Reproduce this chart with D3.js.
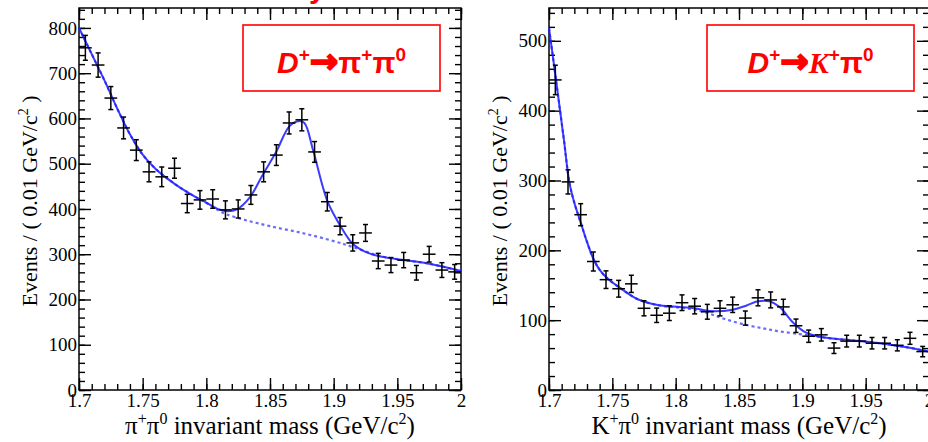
<!DOCTYPE html>
<html>
<head>
<meta charset="utf-8">
<script src="https://cdn.jsdelivr.net/npm/d3@7"></script>
<style>
  body { margin: 0; background: #fff; }
  svg { display: block; }
</style>
</head>
<body>
<div id="chart"></div>
<script>
/* D+ -> pi+ pi0 and D+ -> K+ pi0 invariant mass fits */

// bin centres (0.01 GeV/c^2 bins)
const binCenters = [1.705, 1.715, 1.725, 1.735, 1.745, 1.755, 1.765, 1.775, 1.785, 1.795,
                    1.805, 1.815, 1.825, 1.835, 1.845, 1.855, 1.865, 1.875, 1.885, 1.895,
                    1.905, 1.915, 1.925, 1.935, 1.945, 1.955, 1.965, 1.975, 1.985, 1.995];

// pi+ pi0 panel
const pipiCounts = [756, 718, 645, 579, 530, 482, 471, 490, 412, 420,
                    422, 398, 400, 431, 482, 519, 590, 597, 526, 416,
                    362, 325, 347, 285, 276, 287, 259, 300, 265, 261];
const pipiErrors = [27.5, 26.8, 25.4, 24.1, 23.0, 22.0, 21.7, 22.1, 20.3, 20.5,
                    20.5, 19.9, 20.0, 20.8, 22.0, 22.8, 24.3, 24.4, 22.9, 20.4,
                    19.0, 18.0, 18.6, 16.9, 16.6, 16.9, 16.1, 17.3, 16.3, 16.2];
const pipiFitX = [1.700, 1.710, 1.720, 1.730, 1.740, 1.750, 1.760, 1.770, 1.780, 1.790,
                  1.800, 1.810, 1.817, 1.824, 1.834, 1.844, 1.855, 1.865, 1.872, 1.877,
                  1.884, 1.895, 1.905, 1.915, 1.925, 1.935, 1.950, 1.975, 2.000];
const pipiFitY = [800, 742, 684, 622, 565, 520, 489, 466, 446, 429,
                  414, 399, 395, 399, 425, 474, 527, 582, 594, 590,
                  528, 418, 364, 323, 305, 296, 289, 279, 263];
const pipiBkgX = [1.700, 1.710, 1.720, 1.730, 1.740, 1.750, 1.760, 1.770, 1.780, 1.790,
                  1.800, 1.810, 1.816, 1.830, 1.850, 1.875, 1.900, 1.915, 1.935, 1.950,
                  1.975, 2.000];
const pipiBkgY = [800, 742, 684, 622, 565, 520, 489, 466, 446, 429,
                  413, 396, 388, 376, 362, 347, 329, 316, 297, 289,
                  279, 263];

// K+ pi0 panel
const kpiCounts = [444, 298, 251, 184, 158, 145, 152, 117, 107, 110,
                   125, 120, 112, 117, 122, 103, 132, 129, 119, 92,
                   77, 79, 60, 70, 70, 67, 67, 64, 74, 55];
const kpiErrors = [21.1, 17.3, 15.8, 13.6, 12.6, 12.0, 12.3, 10.8, 10.3, 10.5,
                   11.2, 11.0, 10.6, 10.8, 11.0, 10.1, 11.5, 11.4, 10.9, 9.6,
                   8.8, 8.9, 7.7, 8.4, 8.4, 8.2, 8.2, 8.0, 8.6, 7.4];
const kpiFitX = [1.700, 1.704, 1.708, 1.712, 1.716, 1.720, 1.725, 1.730, 1.735, 1.740,
                 1.746, 1.757, 1.770, 1.788, 1.803, 1.815, 1.827, 1.845, 1.856, 1.865,
                 1.874, 1.882, 1.893, 1.903, 1.912, 1.922, 1.940, 1.961, 1.980, 2.000];
const kpiFitY = [518, 465, 410, 355, 298, 268, 240, 212, 188, 172,
                 160, 145, 130, 121, 119, 117, 113, 115, 121, 127,
                 127, 119, 96, 82, 77, 74, 71, 67, 62, 55];
const kpiBkgX = [1.700, 1.704, 1.708, 1.712, 1.716, 1.720, 1.725, 1.730, 1.735, 1.740,
                 1.746, 1.757, 1.770, 1.788, 1.803, 1.815, 1.827, 1.840, 1.856, 1.870,
                 1.882, 1.898, 1.910, 1.922, 1.940, 1.961, 1.980, 2.000];
const kpiBkgY = [518, 465, 410, 355, 298, 268, 240, 212, 188, 172,
                 160, 145, 130, 121, 118, 115, 109, 101, 93, 88,
                 84, 80, 77, 74, 71, 67, 62, 55];

// axis ticks
const xTicks = [1.7, 1.75, 1.8, 1.85, 1.9, 1.95, 2.0];
const xTickLabels = ["1.7", "1.75", "1.8", "1.85", "1.9", "1.95", "2"];
const pipiYTicks = [0, 100, 200, 300, 400, 500, 600, 700, 800];
const kpiYTicks = [0, 100, 200, 300, 400, 500];

const width = 928, height = 442;

const serif = "'Liberation Serif', 'Times New Roman', serif";
const sans = "'Liberation Sans', Arial, sans-serif";

const svg = d3.select("#chart")
  .append("svg")
  .attr("width", width)
  .attr("height", height)
  .attr("viewBox", [0, 0, width, height]);

// bit of the red title that sticks in from above
svg.append("text")
  .attr("x", 309).attr("y", -2)
  .attr("font-family", sans)
  .attr("font-weight", "bold")
  .attr("font-size", 30)
  .attr("fill", "#ff0000")
  .text("y");

function drawPanel(p) {
  const top = 8, bottom = 390;

  const x = d3.scaleLinear().domain([1.7, 2.0]).range([p.left, p.right]);
  const y = d3.scaleLinear().domain([0, p.yMax]).range([bottom, top]);

  const g = svg.append("g");

  // ticks on all four sides, pointing inwards (ROOT style)
  const xMinor = d3.range(1.70, 2.0001, 0.01);
  const yMinor = d3.range(0, p.yMax, 20);

  const styleAxis = a => a
    .attr("font-family", serif)
    .call(a => a.select(".domain").remove())
    .call(a => a.selectAll("line").attr("stroke", "#000").attr("stroke-width", 1.4))
    .call(a => a.selectAll("text").attr("font-family", serif).attr("font-size", 19).attr("fill", "#000"));

  g.append("g")
    .attr("transform", `translate(0,${bottom})`)
    .call(d3.axisBottom(x).tickValues(xMinor).tickSize(-6).tickFormat(""))
    .call(styleAxis);
  g.append("g")
    .attr("transform", `translate(0,${bottom})`)
    .call(d3.axisBottom(x).tickValues(xTicks).tickSize(-12).tickPadding(4)
      .tickFormat((d, i) => xTickLabels[i]))
    .call(styleAxis);

  g.append("g")
    .attr("transform", `translate(0,${top})`)
    .call(d3.axisTop(x).tickValues(xMinor).tickSize(-6).tickFormat(""))
    .call(styleAxis);
  g.append("g")
    .attr("transform", `translate(0,${top})`)
    .call(d3.axisTop(x).tickValues(xTicks).tickSize(-12).tickFormat(""))
    .call(styleAxis);

  g.append("g")
    .attr("transform", `translate(${p.left},0)`)
    .call(d3.axisLeft(y).tickValues(yMinor).tickSize(-6).tickFormat(""))
    .call(styleAxis);
  g.append("g")
    .attr("transform", `translate(${p.left},0)`)
    .call(d3.axisLeft(y).tickValues(p.yTicks).tickSize(-12).tickPadding(2).tickFormat(d3.format("d")))
    .call(styleAxis);

  g.append("g")
    .attr("transform", `translate(${p.right},0)`)
    .call(d3.axisRight(y).tickValues(yMinor).tickSize(-6).tickFormat(""))
    .call(styleAxis);
  g.append("g")
    .attr("transform", `translate(${p.right},0)`)
    .call(d3.axisRight(y).tickValues(p.yTicks).tickSize(-12).tickFormat(""))
    .call(styleAxis);

  // frame
  g.append("rect")
    .attr("x", p.left).attr("y", top)
    .attr("width", p.right - p.left).attr("height", bottom - top)
    .attr("fill", "none").attr("stroke", "#000").attr("stroke-width", 1.5);

  // fit curves
  const line = (xs, ys) => d3.line()
    .x(i => x(xs[i]))
    .y(i => y(ys[i]))
    .curve(d3.curveCatmullRom.alpha(0.5))(d3.range(xs.length));

  g.append("path")
    .attr("d", line(p.bkgX, p.bkgY))
    .attr("fill", "none")
    .attr("stroke", "#3a3aff")
    .attr("stroke-opacity", 0.75)
    .attr("stroke-width", 2.2)
    .attr("stroke-dasharray", "3,3");

  g.append("path")
    .attr("d", line(p.fitX, p.fitY))
    .attr("fill", "none")
    .attr("stroke", "#1a1aff")
    .attr("stroke-opacity", 0.85)
    .attr("stroke-width", 2);

  // data points with error bars
  const pts = g.append("g")
    .selectAll("g")
    .data(binCenters.map((c, i) => ({ c, n: p.counts[i], e: p.errors[i] })))
    .join("g")
    .attr("stroke", "#000")
    .attr("stroke-width", 1.5);

  pts.append("line")
    .attr("x1", d => x(d.c - 0.005)).attr("x2", d => x(d.c + 0.005))
    .attr("y1", d => y(d.n)).attr("y2", d => y(d.n));
  pts.append("line")
    .attr("x1", d => x(d.c)).attr("x2", d => x(d.c))
    .attr("y1", d => y(d.n - d.e)).attr("y2", d => y(d.n + d.e));
  pts.append("line")
    .attr("x1", d => x(d.c) - 2.5).attr("x2", d => x(d.c) + 2.5)
    .attr("y1", d => y(d.n - d.e)).attr("y2", d => y(d.n - d.e));
  pts.append("line")
    .attr("x1", d => x(d.c) - 2.5).attr("x2", d => x(d.c) + 2.5)
    .attr("y1", d => y(d.n + d.e)).attr("y2", d => y(d.n + d.e));

  // axis titles
  const yt = g.append("text")
    .attr("transform", `translate(${p.left - 42},${(top + bottom) / 2 + 2}) rotate(-90)`)
    .attr("text-anchor", "middle")
    .attr("font-family", serif)
    .attr("font-size", 22)
    .attr("fill", "#000");
  yt.append("tspan").text("Events / ( 0.01 GeV/c");
  yt.append("tspan").attr("font-size", 14).attr("dy", -9).text("2");
  yt.append("tspan").attr("dy", 9).text(" )");

  const xt = g.append("text")
    .attr("x", (p.left + p.right) / 2)
    .attr("y", 434)
    .attr("text-anchor", "middle")
    .attr("font-family", serif)
    .attr("font-size", 25)
    .attr("fill", "#000");
  p.xTitle.forEach(s => {
    const t = xt.append("tspan").text(s.t);
    if (s.sup) t.attr("font-size", 16).attr("dy", -10);
    if (s.down) t.attr("dy", 10);
  });

  // red decay label box
  g.append("rect")
    .attr("x", p.box[0]).attr("y", 25)
    .attr("width", p.box[1] - p.box[0]).attr("height", 66)
    .attr("fill", "#fff").attr("stroke", "#ff0000").attr("stroke-width", 1.6);

  const lab = g.append("text")
    .attr("x", (p.box[0] + p.box[1]) / 2)
    .attr("y", 73)
    .attr("text-anchor", "middle")
    .attr("font-family", sans)
    .attr("font-weight", "bold")
    .attr("font-size", 30)
    .attr("fill", "#ff0000");
  p.label.forEach(s => {
    const t = lab.append("tspan").text(s.t);
    if (s.italic) t.attr("font-style", "italic");
    if (s.serif) t.attr("font-family", serif);
    if (s.sup) t.attr("font-size", 19).attr("dy", -12);
    if (s.down) t.attr("dy", 12);
    if (s.arrow) t.attr("font-family", "'DejaVu Sans', sans-serif").attr("font-size", 34)
      .attr("stroke", "#ff0000").attr("stroke-width", 1.8);
  });
}

drawPanel({
  left: 79, right: 461, yMax: 844, yTicks: pipiYTicks,
  counts: pipiCounts, errors: pipiErrors,
  fitX: pipiFitX, fitY: pipiFitY, bkgX: pipiBkgX, bkgY: pipiBkgY,
  box: [243, 440],
  xTitle: [{ t: "π" }, { t: "+", sup: true }, { t: "π", down: true }, { t: "0", sup: true },
           { t: " invariant mass (GeV/c", down: true }, { t: "2", sup: true }, { t: ")", down: true }],
  label: [{ t: "D", italic: true }, { t: "+", sup: true }, { t: "→", down: true, arrow: true },
          { t: "π" }, { t: "+", sup: true }, { t: "π", down: true }, { t: "0", sup: true }]
});

drawPanel({
  left: 549, right: 929, yMax: 547, yTicks: kpiYTicks,
  counts: kpiCounts, errors: kpiErrors,
  fitX: kpiFitX, fitY: kpiFitY, bkgX: kpiBkgX, bkgY: kpiBkgY,
  box: [707, 914],
  xTitle: [{ t: "K" }, { t: "+", sup: true }, { t: "π", down: true }, { t: "0", sup: true },
           { t: " invariant mass (GeV/c", down: true }, { t: "2", sup: true }, { t: ")", down: true }],
  label: [{ t: "D", italic: true }, { t: "+", sup: true }, { t: "→", down: true, arrow: true },
          { t: "K", italic: true, serif: true }, { t: "+", sup: true }, { t: "π", down: true }, { t: "0", sup: true }]
});
</script>
</body>
</html>
